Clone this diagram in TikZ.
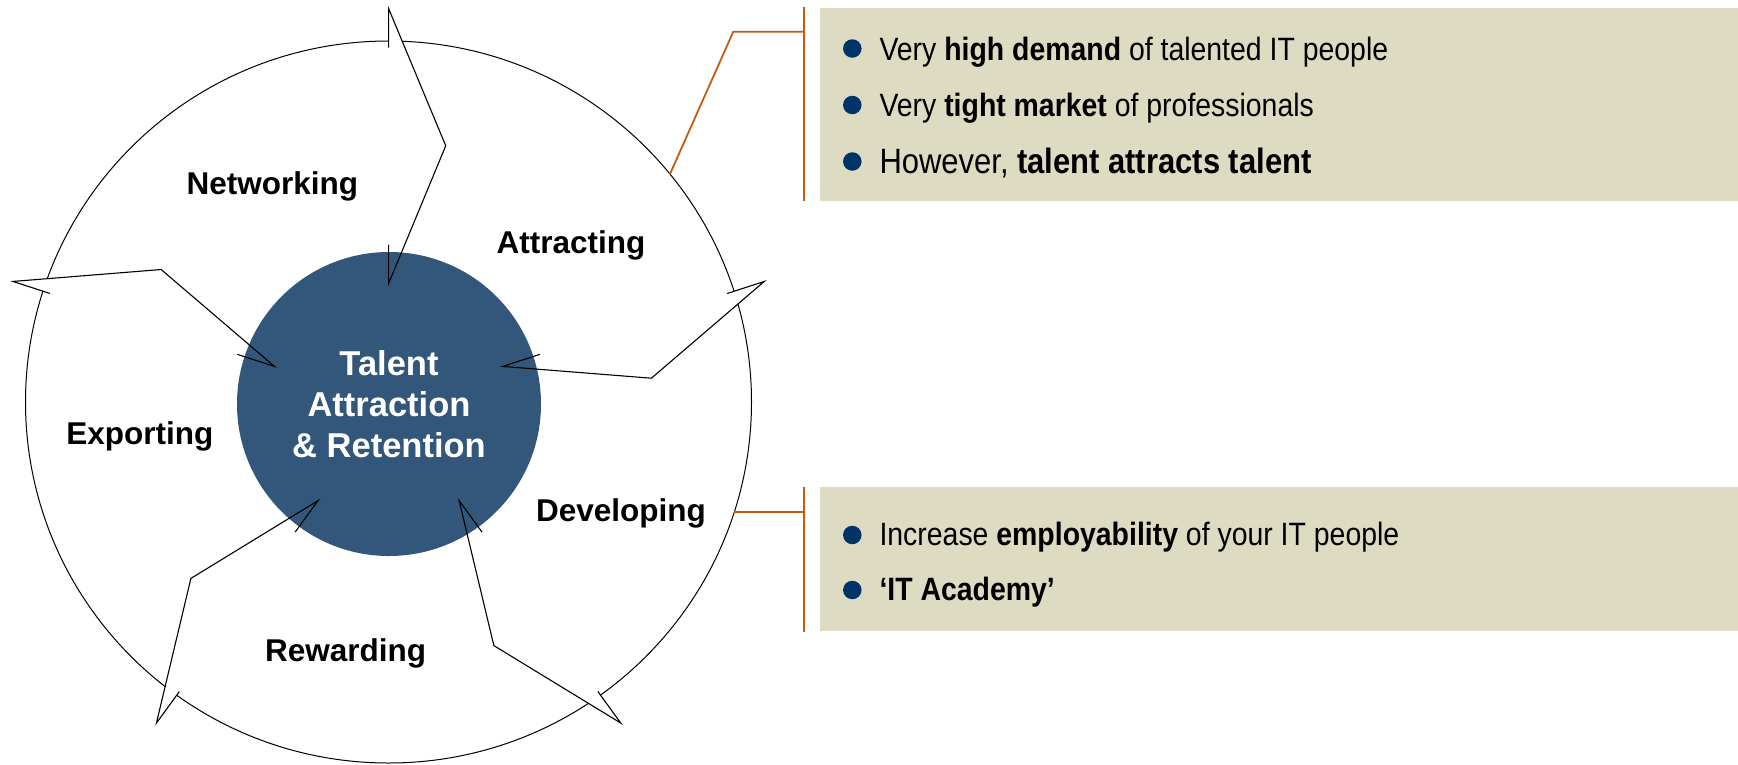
\documentclass[tikz,border=0pt]{standalone}
\usepackage{fontspec}
\setmainfont{Liberation Sans}
\newfontfamily\narrowfont{Liberation Sans}[FakeStretch=0.88]
\usetikzlibrary{shapes.geometric,calc}
\definecolor{talent}{RGB}{51,87,122}
\definecolor{beige}{RGB}{222,219,195}
\definecolor{brk}{RGB}{197,90,17}
\definecolor{bul}{RGB}{0,51,102}
\begin{document}
\begin{tikzpicture}[x=1pt,y=-1pt,
  lbl/.style={font=\fontsize{31.5}{36}\selectfont\bfseries, inner sep=0, anchor=base},
  ctext/.style={font=\fontsize{34.5}{41}\selectfont\bfseries, text=white, align=center, inner sep=0},
  bulletdot/.style={circle, fill=bul, minimum size=18.5pt, inner sep=0},
  btext/.style={font=\narrowfont\fontsize{32.3}{36}\selectfont, anchor=base west, inner sep=0},
  btextbig/.style={font=\narrowfont\fontsize{35.2}{40}\selectfont, anchor=base west, inner sep=0},
  infobox/.style={fill=beige, anchor=north west, inner sep=0, outer sep=0},
  bracket/.style={draw=brk, line width=1.8pt},
  arrowline/.style={draw=black, line width=1.1pt, line join=miter},
]
\useasboundingbox (0,0) rectangle (1738,764);
\fill[white] (0,0) rectangle (1738,764);

% outer ring
\node[ellipse, draw, fill=white, line width=1pt, minimum width=726pt, minimum height=722pt, inner sep=0, outer sep=0] (ring) at (388.5,402) {};

% arrow geometry
\coordinate (ctr) at (388.6,403.5);
\foreach \k/\p in {0/90, 1/162, 2/234, 3/306, 4/18} {
  \coordinate (A\k) at ($(ctr)+(-\p:395)$);
  \coordinate (O\k) at ($(ctr)+(-\p:356)$);
  \coordinate (B\k) at ($(ctr)+(-\p+12.5:264)$);
  \coordinate (C\k) at ($(ctr)+(-\p:120)$);
  \coordinate (I\k) at ($(ctr)+(-\p:159)$);
}
\foreach \k in {0,...,4} {
  \fill[white] (O\k) -- (A\k) -- (B\k) -- cycle;
}

% core
\node[circle, fill=talent, minimum size=304pt, inner sep=0] (core) at (389,404) {};

\foreach \k in {0,...,4} {
  \draw[arrowline] (O\k) -- (A\k) -- (B\k) -- (C\k) -- (I\k);
}

\node[ctext] (title) at (389,404) {Talent\\Attraction\\\& Retention};

% segment labels
\node[lbl] (net) at (272.4,194.3) {Networking};
\node[lbl] (att) at (571,253.3) {Attracting};
\node[lbl] (exp) at (139.8,444) {Exporting};
\node[lbl] (dev) at (621,521.7) {Developing};
\node[lbl] (rew) at (345.7,661.7) {Rewarding};

% info boxes
\node[infobox, minimum width=918pt, minimum height=193pt] (box1) at (820,8) {};
\node[infobox, minimum width=918.5pt, minimum height=144pt] (box2) at (819.5,487) {};

% brackets and connectors
\coordinate (b1t) at (804,7);
\coordinate (b1b) at (804,201);
\coordinate (k1) at (733.3,31.7);
\coordinate (j1) at (804,31.7);
\draw[bracket] (b1t) -- (b1b);
\draw[bracket] (ring.39) -- (k1) -- (j1);

\coordinate (b2t) at (804,487);
\coordinate (b2b) at (804,632);
\coordinate (j2) at (804,511.7);
\draw[bracket] (b2t) -- (b2b);
\draw[bracket] (ring.342 |- j2) -- (j2);

% bullets top
\node[bulletdot] (d1) at (852.3,48.5) {};
\node[btext] (t1) at (879.3,60) {Very \textbf{high demand} of talented IT people};
\node[bulletdot] (d2) at (852.3,105) {};
\node[btext] (t2) at (879.3,116.5) {Very \textbf{tight market} of professionals};
\node[bulletdot] (d3) at (852.3,161.5) {};
\node[btextbig] (t3) at (879.3,173.5) {However, \textbf{talent attracts talent}};

% bullets bottom
\node[bulletdot] (d4) at (852.3,535) {};
\node[btext] (t4) at (879.3,545.5) {Increase \textbf{employability} of your IT people};
\node[bulletdot] (d5) at (852.3,590) {};
\node[btext] (t5) at (879.3,600.5) {\textbf{‘IT Academy’}};
\end{tikzpicture}
\end{document}
